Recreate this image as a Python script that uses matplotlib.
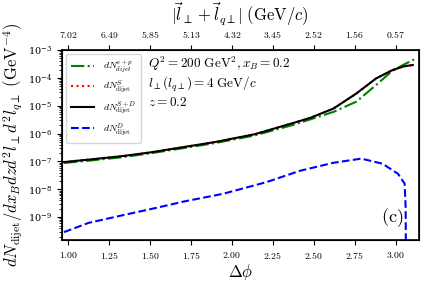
import matplotlib
matplotlib.use("Agg")
import matplotlib.pyplot as plt
import numpy as np
from matplotlib.ticker import FuncFormatter, LogLocator, NullFormatter

plt.rcParams["mathtext.fontset"] = "cm"
plt.rcParams["font.family"] = "serif"
plt.rcParams["font.serif"] = ["DejaVu Serif"]

# Datos
dphi_spd = [0.975, 1.15, 1.33, 1.50, 1.68, 1.90, 2.14, 2.38, 2.48, 2.62, 2.76, 2.88, 2.98, 3.05, 3.105]
val_spd = [9.5e-8, 1.2e-7, 1.55e-7, 2.1e-7, 3.1e-7, 5.0e-7, 9.5e-7, 2.45e-6, 3.7e-6, 7.9e-6, 2.75e-5, 9.5e-5, 1.9e-4, 2.6e-4, 2.9e-4]

dphi_s = [0.975, 1.15, 1.33, 1.50, 1.68, 1.90, 2.14, 2.38, 2.48, 2.62, 2.76, 2.88, 2.98, 3.05, 3.105]
val_s = [9.5e-8, 1.2e-7, 1.55e-7, 2.1e-7, 3.1e-7, 5.0e-7, 9.5e-7, 2.45e-6, 3.7e-6, 7.9e-6, 2.75e-5, 9.5e-5, 1.9e-4, 2.6e-4, 2.9e-4]

dphi_ep = [0.975, 1.15, 1.33, 1.50, 1.68, 1.90, 2.14, 2.38, 2.62, 2.76, 2.88, 2.98, 3.05, 3.126]
val_ep = [8.8e-8, 1.1e-7, 1.42e-7, 1.95e-7, 2.85e-7, 4.6e-7, 8.6e-7, 2.1e-6, 6.0e-6, 1.4e-5, 5.5e-5, 1.8e-4, 3.0e-4, 5.0e-4]

dphi_d = [0.975, 1.124, 1.327, 1.53, 1.713, 1.947, 2.21, 2.415, 2.618, 2.79, 2.92, 3.014, 3.055, 3.061, 3.062, 3.063]
val_d = [2.9e-10, 6.2e-10, 1.15e-9, 2.1e-9, 3.7e-9, 6.9e-9, 1.8e-8, 4.6e-8, 8.9e-8, 1.26e-7, 8.3e-8, 3.6e-8, 1.6e-8, 2.3e-9, 3e-10, 1e-12]

xticks = [1.00, 1.25, 1.50, 1.75, 2.00, 2.25, 2.50, 2.75, 3.00]
l_perp = 4.0

fig = plt.figure(figsize=(4.36, 2.91), dpi=100)
ax = fig.add_axes([0.142, 0.175, 0.818, 0.653])

ax.plot(dphi_ep, val_ep, color="green", ls="-.", lw=1.5, label=r"$dN^{e+p}_{dijet}$")
ax.plot(dphi_s, val_s, color="red", ls=":", lw=1.5, label=r"$dN^{S}_{\rm dijet}$")
ax.plot(dphi_spd, val_spd, color="black", ls="-", lw=1.5, label=r"$dN^{S+D}_{\rm dijet}$")
ax.plot(dphi_d, val_d, color="blue", ls="--", lw=1.5, label=r"$dN^{D}_{\rm dijet}$")

ax.set_yscale("log")
ax.set_xlim(0.962, 3.14)
ax.set_ylim(1.5e-10, 1e-3)
ax.set_xticks(xticks)
ax.xaxis.set_major_formatter(FuncFormatter(lambda v, p: f"${v:.2f}$"))
ax.yaxis.set_major_locator(LogLocator(base=10, numticks=20))
ax.yaxis.set_minor_locator(LogLocator(base=10, subs=np.arange(2, 10), numticks=20))
ax.yaxis.set_minor_formatter(NullFormatter())
ax.tick_params(labelsize=7, direction="out")
for s in ax.spines.values():
    s.set_linewidth(1.2)

ax.set_xlabel(r"$\Delta\phi$", fontsize=12, labelpad=1)
ax.set_ylabel(r"$dN_{\rm dijet}/dx_B dz d^2 l_\perp d^2 l_{q\perp}\ (\mathrm{GeV}^{-4})$", fontsize=12, labelpad=2)

ax2 = ax.twiny()
ax2.set_xlim(ax.get_xlim())
ax2.set_xticks(xticks)
ax2.set_xticklabels([f"${2 * l_perp * np.cos(t / 2):.2f}$" for t in xticks])
ax2.tick_params(labelsize=7, direction="out")
ax2.set_xlabel(r"$|\vec{l}_\perp + \vec{l}_{q\perp}|\ (\mathrm{GeV}/c)$", fontsize=12, labelpad=6)

ax.legend(loc="upper left", fontsize=7, handlelength=2.4, borderaxespad=0.4,
          labelspacing=0.45, borderpad=0.5, handletextpad=0.9)

info = "\n".join([
    r"$Q^2 = 200\ \mathrm{GeV}^2, x_B = 0.2$",
    r"$l_\perp(l_{q\perp}) = 4\ \mathrm{GeV}/c$",
    r"$z = 0.2$",
])
ax.text(0.24, 0.975, info, transform=ax.transAxes, fontsize=9.5, va="top", linespacing=1.15)
ax.text(0.925, 0.12, r"$\mathrm{(c)}$", transform=ax.transAxes, fontsize=13, ha="center", va="center")

fig.savefig("out.png", dpi=100)
